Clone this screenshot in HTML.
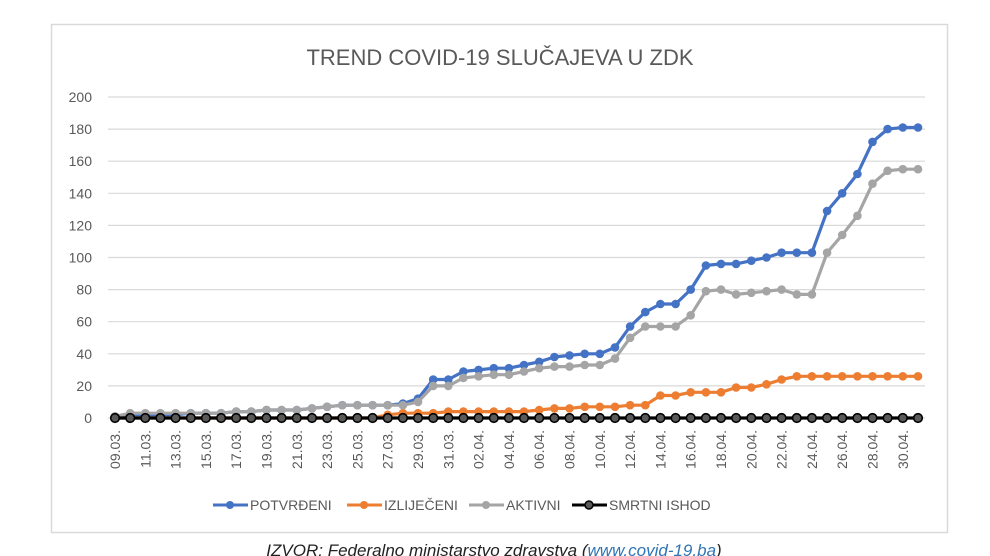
<!DOCTYPE html>
<html><head><meta charset="utf-8"><style>
html,body{margin:0;padding:0;background:#fff;width:990px;height:556px;overflow:hidden}
svg{display:block}
text{font-family:"Liberation Sans",sans-serif}
</style></head><body>
<svg id="s" width="990" height="556" xmlns="http://www.w3.org/2000/svg">
<rect x="51.5" y="24.5" width="896" height="508" fill="#fff" stroke="#d9d9d9" stroke-width="1.5"/>
<text x="500" y="65" text-anchor="middle" font-size="22" fill="#595959">TREND COVID-19 SLUČAJEVA U ZDK</text>
<g id="g"></g>
<g id="legend" font-size="14" fill="#595959">
<line x1="213" y1="505" x2="248" y2="505" stroke="#4472c4" stroke-width="3"/><circle cx="230" cy="505" r="4" fill="#4472c4"/>
<text x="250" y="510">POTVRĐENI</text>
<line x1="347" y1="505" x2="382" y2="505" stroke="#ed7d31" stroke-width="3"/><circle cx="364" cy="505" r="4" fill="#ed7d31"/>
<text x="384" y="510">IZLIJEČENI</text>
<line x1="469" y1="505" x2="504" y2="505" stroke="#a5a5a5" stroke-width="3"/><circle cx="486" cy="505" r="4" fill="#a5a5a5"/>
<text x="506" y="510">AKTIVNI</text>
<line x1="572" y1="505" x2="607" y2="505" stroke="#000" stroke-width="3"/><circle cx="589" cy="505" r="4" fill="#595959" stroke="#000" stroke-width="1.5"/>
<text x="609" y="510">SMRTNI ISHOD</text>
</g>
<text x="494" y="556" text-anchor="middle" font-size="17" font-style="italic" fill="#222">IZVOR: Federalno ministarstvo zdravstva (<tspan fill="#2e75b6">www.covid-19.ba</tspan>)</text>
</svg>
<script>
var g=document.getElementById('g'),h='';
function Y(v){return 418-v*1.605}
function X(i){return 115+i*15.15}
for(var v=0;v<=200;v+=20){h+='<line x1="108" x2="925" y1="'+Y(v)+'" y2="'+Y(v)+'" stroke="#d9d9d9" stroke-width="1.2"/>';
h+='<text x="92" y="'+(Y(v)+5)+'" text-anchor="end" font-size="14" fill="#595959">'+v+'</text>';}
var d=[];
for(var i=0;i<54;i++){var day,mon;if(i<23){day=9+i;mon='03';}else if(i<53){day=i-22;mon='04';}else{day=1;mon='05';}d.push((day<10?'0':'')+day+'.'+mon+'.');}
for(var i=0;i<54;i+=2){var x=X(i)+5;h+='<text transform="translate('+x+',430) rotate(-90)" text-anchor="end" font-size="14" fill="#595959">'+d[i]+'</text>';}
var P=[1,2,2,2,2,3,3,3,4,4,5,5,5,6,7,8,8,8,8,9,12,24,24,29,30,31,31,33,35,38,39,40,40,44,57,66,71,71,80,95,96,96,98,100,103,103,103,129,140,152,172,180,181,181];
var I=[0,0,0,0,0,0,0,0,0,0,0,0,0,0,0,0,0,0,2,3,3,3,4,4,4,4,4,4,5,6,6,7,7,7,8,8,14,14,16,16,16,19,19,21,24,26,26,26,26,26,26,26,26,26];
var A=[1,3,3,3,3,3,3,3,4,4,5,5,5,6,7,8,8,8,8,8,10,20,20,25,26,27,27,29,31,32,32,33,33,37,50,57,57,57,64,79,80,77,78,79,80,77,77,103,114,126,146,154,155,155];
var Z=[];for(i=0;i<54;i++)Z.push(0);
function ser(a,c,fill,stroke){var p='';for(var i=0;i<a.length;i++)p+=(i?'L':'M')+X(i).toFixed(1)+','+Y(a[i]).toFixed(1);
var s='<path d="'+p+'" fill="none" stroke="'+c+'" stroke-width="3.2" stroke-linejoin="round"/>';
for(i=0;i<a.length;i++)s+='<circle cx="'+X(i).toFixed(1)+'" cy="'+Y(a[i]).toFixed(1)+'" r="4.3" fill="'+fill+'"'+(stroke?' stroke="'+stroke+'" stroke-width="1.6"':'')+'/>';return s;}
h+=ser(P,'#4472c4','#4472c4');h+=ser(I,'#ed7d31','#ed7d31');h+=ser(A,'#a5a5a5','#a5a5a5');h+=ser(Z,'#000','#595959','#000');
g.innerHTML=h;
</script>
</body></html>
